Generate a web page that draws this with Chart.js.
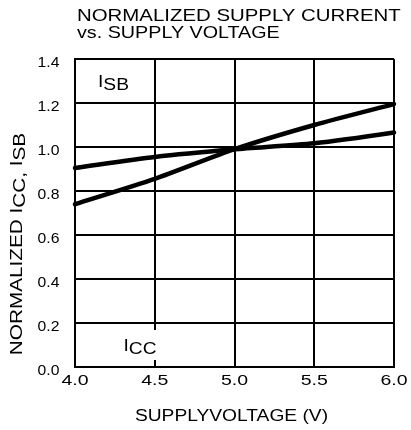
<!DOCTYPE html>
<html>
<head>
<meta charset="utf-8">
<script src="https://cdn.jsdelivr.net/npm/chart.js@4"></script>
<style>
  html, body { margin: 0; padding: 0; background: #fff; }
  canvas { display: block; }
</style>
</head>
<body>
<canvas id="chart" width="411" height="430"></canvas>
<script>
const FONT = '"Liberation Sans", Arial, Helvetica, sans-serif';

// chart data
const titleLines = ['NORMALIZED SUPPLY CURRENT', 'vs. SUPPLY VOLTAGE'];
const xTitle = 'SUPPLYVOLTAGE (V)';
const xTicks = ['4.0', '4.5', '5.0', '5.5', '6.0'];
const yTicks = ['0.0', '0.2', '0.4', '0.6', '0.8', '1.0', '1.2', '1.4'];

const iccVoltages = [4.0, 4.5, 5.0, 5.5, 6.0];
const iccValues = [0.74, 0.855, 0.99, 1.10, 1.195];
const isbVoltages = [4.0, 4.5, 5.0, 5.5, 6.0, 6.04];
const isbValues = [0.905, 0.955, 0.99, 1.017, 1.066, 1.075];

const toPoints = (xs, ys) => xs.map((x, i) => ({ x, y: ys[i] }));

// draw text stretched sideways, like the datasheet lettering
function put(ctx, str, x, y, size, sx, align, base) {
    ctx.save();
    ctx.font = size + 'px ' + FONT;
    ctx.fillStyle = '#000';
    ctx.textAlign = align;
    ctx.textBaseline = base || 'alphabetic';
    ctx.translate(x, y);
    ctx.scale(sx, 1);
    ctx.fillText(str, 0, 0);
    ctx.restore();
}

// "I" with a dropped suffix (I_CC, I_SB)
function putSub(ctx, main, sub, x, y, size, sx, drop) {
    ctx.save();
    ctx.font = size + 'px ' + FONT;
    ctx.fillStyle = '#000';
    ctx.textBaseline = 'alphabetic';
    ctx.translate(x, y);
    ctx.scale(sx, 1);
    ctx.fillText(main, 0, 0);
    ctx.fillText(sub, ctx.measureText(main).width, drop);
    ctx.restore();
}

const textPlugin = {
    id: 'wideText',
    afterDraw(chart) {
        const ctx = chart.ctx;
        const xs = chart.scales.x;
        const ys = chart.scales.y;
        const area = chart.chartArea;

        put(ctx, titleLines[0], 77, 21, 17, 1.2, 'left');
        put(ctx, titleLines[1], 77, 38, 17, 1.16, 'left');

        xTicks.forEach(t => {
            put(ctx, t, xs.getPixelForValue(parseFloat(t)), 384.5, 15, 1.3, 'center');
        });
        yTicks.forEach(t => {
            put(ctx, t, 59.5, ys.getPixelForValue(parseFloat(t)) + 4, 15, 1.05, 'right', 'middle');
        });
        put(ctx, xTitle, (area.left + area.right) / 2 - 3, 420.5, 16, 1.2, 'center');

        // rotated y title with dropped suffixes
        const segs = [['NORMALIZED I', 0], ['CC,', 3.5], [' I', 0], ['SB', 3.5]];
        ctx.save();
        ctx.font = '17px ' + FONT;
        ctx.fillStyle = '#000';
        ctx.textBaseline = 'alphabetic';
        ctx.translate(21.5, 244);
        ctx.rotate(-Math.PI / 2);
        ctx.scale(1.22, 1);
        const total = segs.reduce((w, s) => w + ctx.measureText(s[0]).width, 0);
        let cx = -total / 2;
        segs.forEach(s => {
            ctx.fillText(s[0], cx, s[1]);
            cx += ctx.measureText(s[0]).width;
        });
        ctx.restore();

        // curve labels
        putSub(ctx, 'I', 'SB', 98, 86.5, 16, 1.2, 3.5);
        ctx.fillStyle = '#fff';
        ctx.fillRect(119, 330, 40, 30);
        putSub(ctx, 'I', 'CC', 123.5, 350.5, 16, 1.2, 3.5);
    }
};

new Chart(document.getElementById('chart'), {
    type: 'line',
    data: {
        datasets: [
            {
                label: 'ICC',
                data: toPoints(iccVoltages, iccValues),
                borderColor: '#000',
                borderWidth: 4.5,
                pointRadius: 0,
                tension: 0.25,
                borderCapStyle: 'round',
                clip: false
            },
            {
                label: 'ISB',
                data: toPoints(isbVoltages, isbValues),
                borderColor: '#000',
                borderWidth: 4.5,
                pointRadius: 0,
                tension: 0.25,
                borderCapStyle: 'round',
                clip: false
            }
        ]
    },
    options: {
        responsive: false,
        devicePixelRatio: 1,
        animation: false,
        layout: { padding: { left: 75, right: 17, top: 59, bottom: 63 } },
        plugins: {
            legend: { display: false },
            title: { display: false },
            tooltip: { enabled: false }
        },
        scales: {
            x: {
                type: 'linear',
                min: 4,
                max: 6,
                afterFit: s => { s.height = 0; },
                ticks: { display: false, stepSize: 0.5 },
                grid: { color: '#000', lineWidth: 2, drawTicks: false },
                border: { color: '#000', width: 2 }
            },
            y: {
                min: 0,
                max: 1.4,
                afterFit: s => { s.width = 0; },
                ticks: { display: false, stepSize: 0.2 },
                grid: { color: '#000', lineWidth: 2, drawTicks: false },
                border: { color: '#000', width: 2 }
            }
        }
    },
    plugins: [textPlugin]
});
</script>
</body>
</html>
